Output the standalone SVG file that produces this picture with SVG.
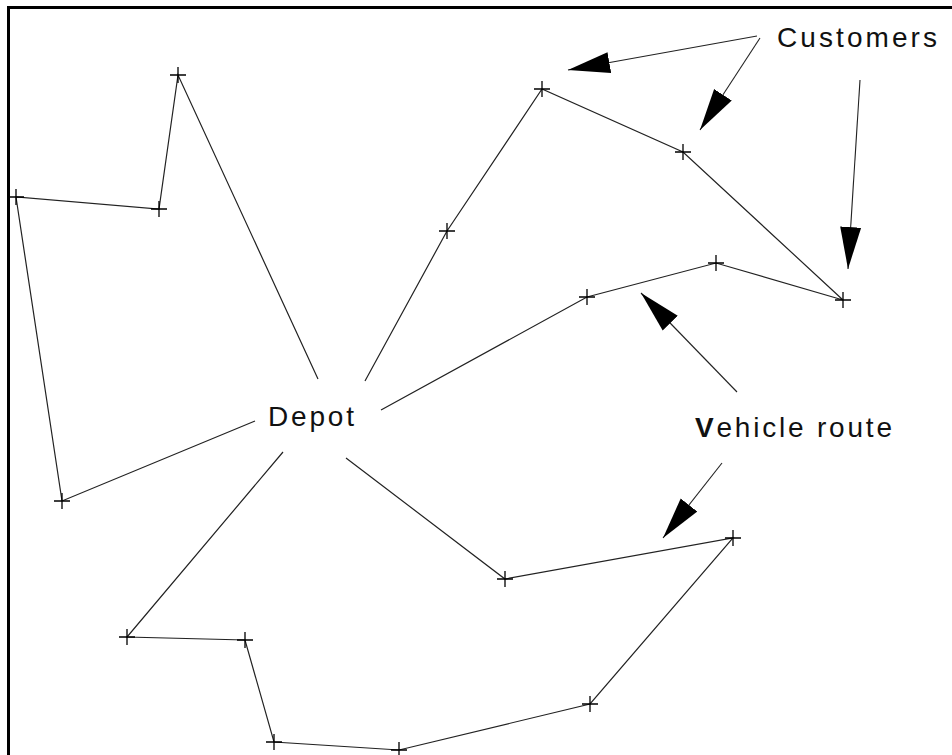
<svg xmlns="http://www.w3.org/2000/svg" width="952" height="755" viewBox="0 0 952 755">
<style>
.route{fill:none;stroke:#222;stroke-width:1.2;stroke-linejoin:miter}
.ptr{fill:none;stroke:#222;stroke-width:1.1}
.cross{fill:none;stroke:#000;stroke-width:1.3}
.lbl{font-family:"Liberation Sans",Arial,sans-serif;font-size:28px;fill:#111;letter-spacing:3px}
</style>
<defs>
<marker id="head" markerUnits="userSpaceOnUse" markerWidth="42" markerHeight="22" viewBox="0 0 40 20" refX="40" refY="10" orient="auto">
<path d="M0,0 L40,10 L0,20 z" fill="#000"/>
</marker>
<path id="x" d="M-8,0H8M0,-8V8"/>
</defs>
<rect width="952" height="755" fill="#fff"/>
<path d="M8.5,755V7.5H952" fill="none" stroke="#000" stroke-width="3"/>
<g id="connectors">
<path class="route" d="M318,379 L178,75 L159,209 L16,197 L62,501 L255,421"/>
<path class="route" d="M365,381 L447,231 L542,89 L683,152 L843,300 L716,263 L587,297 L381,410"/>
<path class="route" d="M346,458 L505,579 L733,538 L590,704 L399,750 L274,742 L245,640 L127,637 L283,452"/>
<path class="ptr" d="M757,36 L568,70" marker-end="url(#head)"/>
<path class="ptr" d="M760,38 L700,130" marker-end="url(#head)"/>
<path class="ptr" d="M860,80 L848,269" marker-end="url(#head)"/>
<path class="ptr" d="M737,392 L641,293" marker-end="url(#head)"/>
<path class="ptr" d="M722,463 L663,538" marker-end="url(#head)"/>
</g>
<g id="depot"><text class="lbl" x="268" y="426" textLength="89">Depot</text></g>
<g id="label-customers"><text class="lbl" x="777" y="47" textLength="163">Customers</text></g>
<g id="label-vehicle-route"><text class="lbl" x="695" y="437" textLength="200"><tspan font-weight="bold">V</tspan>ehicle route</text></g>
<g id="c1" class="cross"><use href="#x" x="178" y="75"/></g>
<g id="c2" class="cross"><use href="#x" x="159" y="209"/></g>
<g id="c3" class="cross"><use href="#x" x="16" y="197"/></g>
<g id="c4" class="cross"><use href="#x" x="62" y="501"/></g>
<g id="c5" class="cross"><use href="#x" x="447" y="231"/></g>
<g id="c6" class="cross"><use href="#x" x="542" y="89"/></g>
<g id="c7" class="cross"><use href="#x" x="683" y="152"/></g>
<g id="c8" class="cross"><use href="#x" x="843" y="300"/></g>
<g id="c9" class="cross"><use href="#x" x="716" y="263"/></g>
<g id="c10" class="cross"><use href="#x" x="587" y="297"/></g>
<g id="c11" class="cross"><use href="#x" x="505" y="579"/></g>
<g id="c12" class="cross"><use href="#x" x="733" y="538"/></g>
<g id="c13" class="cross"><use href="#x" x="590" y="704"/></g>
<g id="c14" class="cross"><use href="#x" x="399" y="750"/></g>
<g id="c15" class="cross"><use href="#x" x="274" y="742"/></g>
<g id="c16" class="cross"><use href="#x" x="245" y="640"/></g>
<g id="c17" class="cross"><use href="#x" x="127" y="637"/></g>
</svg>
